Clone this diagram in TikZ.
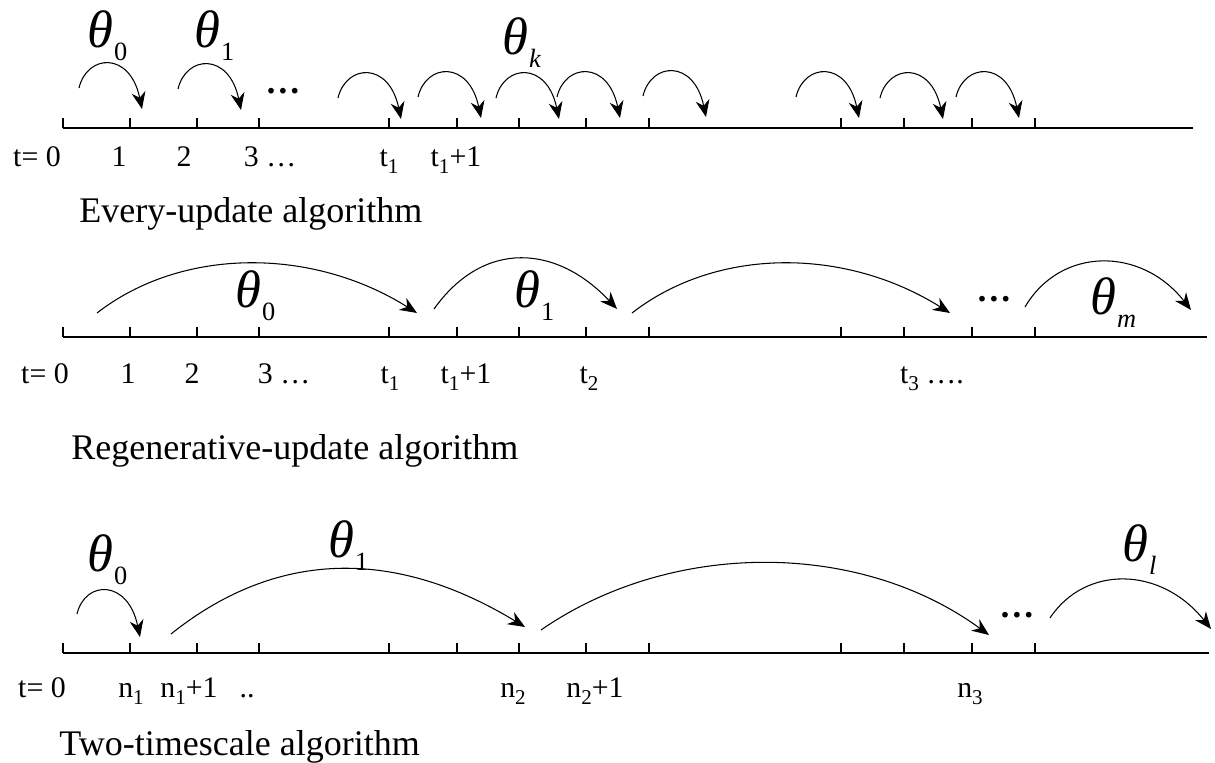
\documentclass[tikz,border=0pt]{standalone}
\usepackage{fontspec}
\setmainfont{Liberation Serif}
\usetikzlibrary{arrows.meta}

\newcommand{\thsub}[1]{{\fontsize{30}{32}\selectfont\itshape θ}\kern0.5pt\raisebox{-7pt}{\fontsize{15}{16}\selectfont #1}}
\newcommand{\lowsub}[1]{\raisebox{-3.5pt}{\fontsize{12}{13}\selectfont #1}}

\begin{document}
\begin{tikzpicture}[x=0.02cm, y=-0.02cm,
  axis/.style={line width=1pt},
  tickmark/.style={line width=0.7pt},
  hop/.style={line width=0.6pt, -{Stealth[length=3.4mm,width=2.8mm]}},
  tlab/.style={font=\fontsize{17}{20}\selectfont, inner sep=0pt, anchor=base},
  algname/.style={font=\fontsize{20.5}{24}\selectfont, inner sep=0pt, anchor=base west},
  par/.style={inner sep=0pt, anchor=base west},
  more/.style={font=\fontsize{20}{24}\selectfont\bfseries, inner sep=0pt, anchor=base}
]
\useasboundingbox (0,0) rectangle (1215,763);

\coordinate (e0) at (63,128); \coordinate (e1) at (1193,128);
\coordinate (r0) at (63,337); \coordinate (r1) at (1207,337);
\coordinate (w0) at (63,653); \coordinate (w1) at (1209,653);
\draw[axis] (e0) -- (e1);
\draw[axis] (r0) -- (r1);
\draw[axis] (w0) -- (w1);
\foreach \y in {128,337,653}
  \foreach \x in {63,130,197,259,389,457,519,586,649,841,904,972,1035}
    \draw[tickmark] (\x,\y) -- ++(0,-10);

% every-update
\foreach \x/\y [count=\i] in {79/88,178/89,338/98,418/97,496/98,557/97,643/96,796/97,880/98,956/97}{
  \coordinate (h\i s) at (\x,\y);
  \coordinate (h\i e) at (\x+63,\y+21);
  \draw[hop] (h\i s) .. controls +(8,-34) and +(-12,-58) .. (h\i e);
}
\node[par] (e-th0) at (87,48) {\thsub{0}};
\node[par] (e-th1) at (194,48) {\thsub{1}};
\node[par] (e-thk) at (502,55) {\thsub{\itshape k}};
\node[more] (e-dots) at (283,94) {…};
\node[tlab] (e-t0) at (37,167) {t= 0};
\node[tlab] (e-1) at (119,167) {1};
\node[tlab] (e-2) at (184,167) {2};
\node[tlab] (e-3) at (270,167) {3 …};
\node[tlab] (e-t1) at (389,167) {t\lowsub{1}};
\node[tlab] (e-t1p) at (456,167) {t\lowsub{1}+1};
\node[algname] (e-name) at (79,223) {Every-update algorithm};

% regenerative-update
\coordinate (g1s) at (97,313);   \coordinate (g1e) at (417,313);
\coordinate (g2s) at (434,309);  \coordinate (g2e) at (617,309);
\coordinate (g3s) at (632,313);  \coordinate (g3e) at (950,313);
\coordinate (g4s) at (1025,307); \coordinate (g4e) at (1191,310);
\draw[hop] (g1s) .. controls +(85,-66) and +(-105,-66) .. (g1e);
\draw[hop] (g2s) .. controls +(50,-70) and +(-60,-64) .. (g2e);
\draw[hop] (g3s) .. controls +(85,-66) and +(-105,-66) .. (g3e);
\draw[hop] (g4s) .. controls +(35,-60) and +(-50,-64) .. (g4e);
\node[par] (r-th0) at (235,308) {\thsub{0}};
\node[par] (r-th1) at (514,308) {\thsub{1}};
\node[par] (r-thm) at (1090,315) {\thsub{\itshape m}};
\node[more] (r-dots) at (994,302) {…};
\node[tlab] (r-t0) at (45,384) {t= 0};
\node[tlab] (r-1) at (128,384) {1};
\node[tlab] (r-2) at (192,384) {2};
\node[tlab] (r-3) at (284,384) {3 …};
\node[tlab] (r-t1) at (390,384) {t\lowsub{1}};
\node[tlab] (r-t1p) at (466,384) {t\lowsub{1}+1};
\node[tlab] (r-t2) at (589,384) {t\lowsub{2}};
\node[tlab] (r-t3) at (932,384) {t\lowsub{3} ….};
\node[algname] (r-name) at (71,460) {Regenerative-update algorithm};

% two-timescale
\coordinate (w1s) at (77,614);   \coordinate (w1e) at (140,637);
\coordinate (w2s) at (171,634);  \coordinate (w2e) at (525,627);
\coordinate (w3s) at (541,630);  \coordinate (w3e) at (989,635);
\coordinate (w4s) at (1050,618); \coordinate (w4e) at (1211,629);
\draw[hop] (w1s) .. controls +(8,-34) and +(-12,-58) .. (w1e);
\draw[hop] (w2s) .. controls +(110,-88) and +(-125,-76) .. (w2e);
\draw[hop] (w3s) .. controls +(130,-90) and +(-130,-95) .. (w3e);
\draw[hop] (w4s) .. controls +(35,-53) and +(-50,-63) .. (w4e);
\node[par] (w-th0) at (87,572) {\thsub{0}};
\node[par] (w-th1) at (328,558) {\thsub{1}};
\node[par] (w-thl) at (1122,562) {\thsub{\itshape l}};
\node[more] (w-dots) at (1017,618) {…};
\node[tlab] (w-t0) at (42,698) {t= 0};
\node[tlab] (w-n1) at (131,698) {n\lowsub{1}};
\node[tlab] (w-n1p) at (189,698) {n\lowsub{1}+1};
\node[tlab] (w-dd) at (247,698) {..};
\node[tlab] (w-n2) at (513,698) {n\lowsub{2}};
\node[tlab] (w-n2p) at (595,698) {n\lowsub{2}+1};
\node[tlab] (w-n3) at (970,698) {n\lowsub{3}};
\node[algname] (w-name) at (59,756) {Two-timescale algorithm};
\end{tikzpicture}
\end{document}
